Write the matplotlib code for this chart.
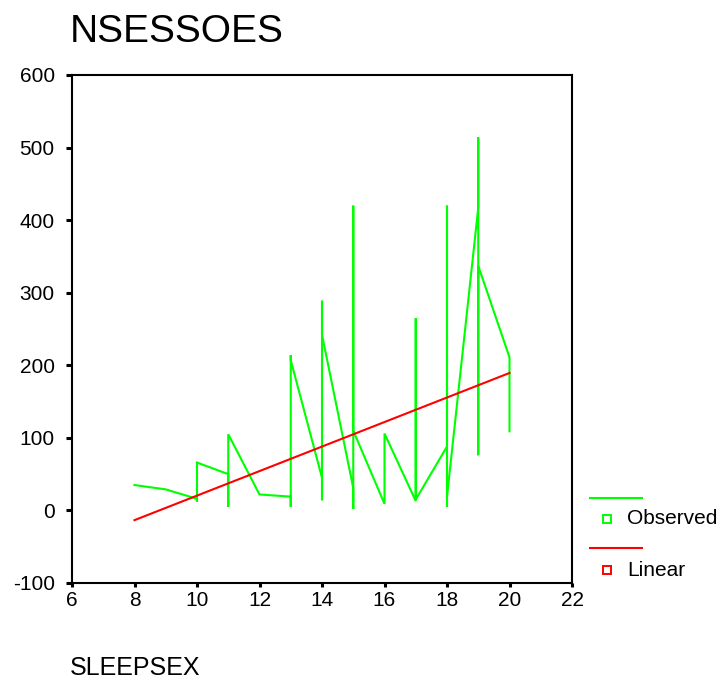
import matplotlib
matplotlib.use("Agg")
import matplotlib.pyplot as plt
from matplotlib.lines import Line2D

plt.rcParams['font.family'] = ['Liberation Sans', 'DejaVu Sans']
plt.rcParams['axes.unicode_minus'] = False

# Observed cases, in case order after sorting by SLEEPSEX
sleepsex = [8, 9, 10, 10, 10, 11, 11, 11, 12, 13, 13, 13, 13,
            14, 14, 14, 14, 15, 15, 15, 15, 16, 16, 17, 17, 17,
            18, 18, 18, 18, 19, 19, 19, 19, 20, 20]
nsessoes = [35, 29, 16, 12, 66, 50, 5, 105, 22, 19, 5, 214, 207,
            45, 14, 289, 242, 31, 2, 420, 110, 9, 106, 13, 265, 15,
            88, 420, 5, 19, 417, 514, 76, 337, 211, 109]

# Linear model: NSESSOES = b0 + b1 * SLEEPSEX
b0 = -148.6
b1 = 16.9
fit_x = sorted(set(sleepsex))

x_ticks = [6, 8, 10, 12, 14, 16, 18, 20, 22]
y_ticks = [-100, 0, 100, 200, 300, 400, 500, 600]

W, H = 726, 679
fig = plt.figure(figsize=(W / 100, H / 100), dpi=100)
ax = fig.add_axes([72 / W, 1 - 583 / H, 500 / W, 508 / H])

green = '#00ff00'
red = '#ff0000'

ax.plot(sleepsex, nsessoes, color=green, lw=1.5, solid_joinstyle='miter')
fit_y = [b0 + b1 * v for v in fit_x]
ax.plot(fit_x, fit_y, color=red, lw=1.5)

ax.set_xlim(6, 22)
ax.set_ylim(-100, 600)
ax.set_xticks(x_ticks)
ax.set_yticks(y_ticks)
ax.tick_params(axis='y', direction='out', length=4.5, width=2.2, pad=8,
               labelsize=15, right=False)
ax.tick_params(axis='x', direction='out', length=3, width=2.2, pad=3,
               labelsize=15, top=False)
for sp in ax.spines.values():
    sp.set_linewidth(1.5)
    sp.set_color('black')

# Title and axis label
fig.text(70 / W, 1 - 42 / H, 'NSESSOES', fontsize=28, ha='left', va='baseline')
fig.text(70 / W, 1 - 675 / H, 'SLEEPSEX', fontsize=18, ha='left', va='baseline')

# Legend, drawn in figure pixels
def legend_entry(y_line, y_item, color, label):
    fig.add_artist(Line2D([590 / W, 642 / W], [1 - y_line / H, 1 - y_line / H],
                          color=color, lw=1.5, transform=fig.transFigure))
    fig.add_artist(Line2D([607 / W], [1 - y_item / H], marker='s', markersize=6,
                          markerfacecolor='white', markeredgecolor=color,
                          markeredgewidth=1.4, linestyle='none',
                          transform=fig.transFigure))
    fig.text(627 / W, 1 - y_item / H, label, fontsize=15, ha='left', va='center')

legend_entry(498, 519, green, 'Observed')
legend_entry(548, 570, red, 'Linear')

fig.savefig('out.png', dpi=100)
